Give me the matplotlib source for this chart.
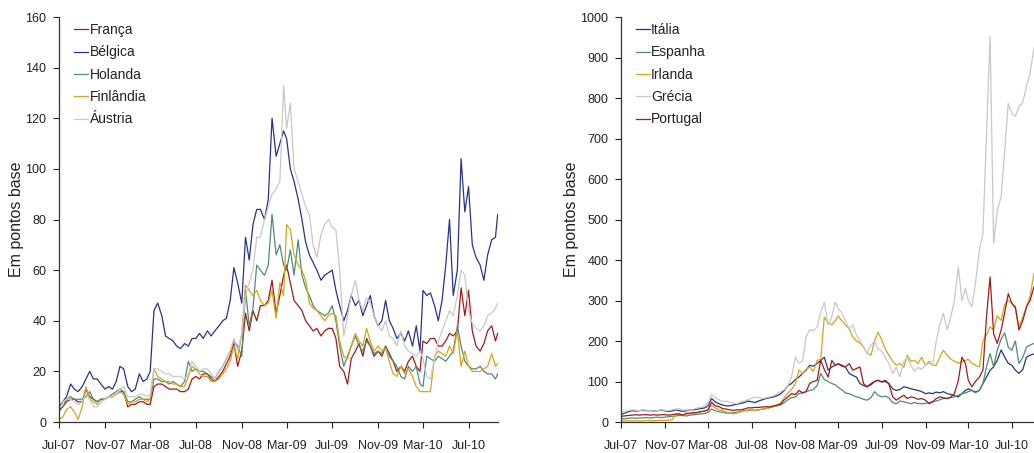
import datetime as dt
import matplotlib
matplotlib.use('Agg')
import matplotlib.pyplot as plt
import matplotlib.dates as mdates

plt.rcParams['font.family'] = ['Liberation Sans', 'DejaVu Sans']

# observation dates: 1st, 11th and 21st of each month, last one 17 Sep 2010
dates = []
for y, m in [(2007 + (6 + k) // 12, (6 + k) % 12 + 1) for k in range(39)]:
    days = [1, 11, 17] if (y, m) == (2010, 9) else [1, 11, 21]
    dates += [dt.date(y, m, d) for d in days]

tick_dates = [dt.date(2007 + (6 + 4 * k) // 12, (6 + 4 * k) % 12 + 1, 1) for k in range(10)]
tick_labels = ['Jul-07', 'Nov-07', 'Mar-08', 'Jul-08', 'Nov-08',
               'Mar-09', 'Jul-09', 'Nov-09', 'Mar-10', 'Jul-10']

# ---- spreads vs Germany, core countries (basis points) ----
franca = [5, 6, 8, 9, 9, 8, 8, 13, 10, 9, 8, 9, 9, 10, 10, 11, 12, 12,
          6, 7, 7, 8, 8, 7, 7, 14, 15, 15, 14, 13, 13, 13, 12, 12, 13, 17,
          18, 17, 19, 19, 17, 16, 18, 20, 23, 26, 31, 22, 28, 43, 36, 44, 40, 46,
          46, 48, 56, 43, 50, 58, 62, 55, 48, 46, 44, 40, 38, 36, 37, 34, 36, 37,
          37, 33, 22, 20, 15, 25, 28, 31, 26, 33, 30, 26, 28, 26, 30, 27, 24, 20,
          22, 20, 24, 26, 22, 20, 32, 31, 33, 33, 30, 30, 32, 35, 34, 36, 53, 42,
          52, 36, 30, 28, 31, 36, 38, 32, 35]
belgica = [6, 8, 10, 15, 13, 12, 14, 17, 20, 17, 17, 15, 13, 14, 13, 16, 22, 21,
           14, 12, 13, 19, 16, 17, 20, 44, 47, 42, 34, 33, 32, 30, 29, 31, 30, 33,
           33, 35, 33, 36, 34, 36, 38, 40, 41, 48, 61, 55, 47, 73, 64, 78, 84, 84,
           80, 88, 120, 105, 110, 115, 112, 100, 95, 88, 80, 71, 66, 63, 60, 56, 58, 59,
           60, 52, 46, 40, 44, 50, 46, 48, 42, 46, 50, 42, 38, 40, 48, 40, 37, 33,
           35, 32, 36, 30, 38, 28, 52, 50, 51, 46, 40, 48, 62, 80, 50, 60, 104, 83,
           93, 70, 65, 62, 56, 66, 72, 73, 82]
holanda = [4, 6, 9, 10, 9, 9, 9, 10, 12, 9, 8, 9, 9, 10, 11, 12, 13, 12,
           8, 8, 9, 10, 9, 9, 9, 17, 17, 16, 16, 15, 16, 15, 14, 16, 24, 20,
           21, 20, 20, 19, 18, 17, 20, 22, 25, 28, 32, 30, 26, 52, 38, 45, 62, 60,
           58, 62, 82, 66, 70, 62, 60, 68, 58, 72, 58, 53, 50, 46, 44, 43, 42, 43,
           46, 40, 30, 22, 26, 30, 34, 30, 28, 32, 30, 27, 28, 27, 30, 26, 24, 22,
           18, 17, 22, 20, 22, 15, 14, 26, 25, 24, 26, 25, 24, 26, 28, 38, 30, 24,
           22, 21, 21, 22, 20, 19, 19, 17, 19]
finlandia = [1, 2, 5, 6, 4, 1, 6, 14, 9, 8, 7, 8, 9, 10, 10, 11, 12, 11,
             7, 8, 8, 9, 9, 8, 9, 21, 18, 17, 16, 16, 15, 15, 14, 14, 18, 22,
             21, 19, 18, 18, 16, 16, 17, 19, 21, 24, 30, 25, 35, 54, 52, 50, 52, 48,
             46, 47, 52, 41, 55, 50, 78, 76, 66, 62, 60, 56, 47, 45, 44, 42, 40, 42,
             43, 42, 32, 26, 25, 30, 35, 32, 30, 37, 32, 28, 30, 28, 29, 24, 19, 18,
             22, 19, 21, 18, 14, 12, 12, 12, 12, 26, 28, 27, 26, 30, 27, 36, 22, 28,
             22, 20, 20, 20, 21, 22, 27, 22, 23]
austria = [7, 8, 9, 9, 8, 7, 8, 11, 9, 6, 6, 8, 9, 10, 10, 11, 13, 14,
           10, 10, 10, 11, 11, 10, 11, 21, 21, 20, 19, 19, 18, 18, 18, 17, 19, 24,
           22, 20, 21, 21, 19, 17, 20, 22, 25, 28, 33, 28, 35, 50, 55, 60, 73, 73,
           80, 85, 90, 92, 95, 133, 116, 126, 100, 95, 90, 85, 82, 70, 65, 74, 78, 80,
           77, 76, 60, 34, 42, 50, 56, 48, 44, 49, 47, 42, 38, 36, 40, 34, 33, 30,
           36, 30, 28, 27, 26, 28, 25, 18, 17, 25, 32, 36, 40, 44, 42, 50, 60, 58,
           44, 39, 37, 36, 38, 42, 43, 45, 47]

# ---- spreads vs Germany, peripheral countries (basis points) ----
italia = [18, 22, 25, 28, 27, 28, 29, 28, 28, 27, 28, 29, 28, 26, 27, 30, 28, 26,
          28, 30, 30, 32, 33, 35, 40, 58, 50, 45, 42, 40, 40, 42, 44, 46, 48, 52,
          50, 48, 52, 55, 58, 60, 62, 65, 70, 78, 90, 95, 105, 111, 120, 128, 140, 138,
          144, 152, 160, 128, 136, 140, 144, 140, 136, 120, 115, 111, 95, 90, 87, 92, 100, 103,
          99, 100, 95, 82, 78, 80, 87, 85, 82, 80, 78, 75, 70, 72, 70, 74, 72, 75,
          70, 68, 65, 62, 70, 78, 82, 78, 74, 78, 95, 111, 128, 136, 152, 178, 160, 145,
          140, 128, 120, 130, 160, 165, 168, 165, 170]
espanha = [8, 8, 9, 10, 9, 10, 10, 11, 10, 11, 12, 11, 12, 13, 14, 15, 16, 16,
           15, 17, 18, 19, 20, 21, 24, 32, 28, 25, 24, 22, 22, 23, 24, 26, 28, 28,
           30, 29, 30, 32, 34, 36, 38, 40, 42, 48, 55, 60, 62, 70, 72, 75, 78, 80,
           90, 120, 105, 100, 95, 92, 85, 80, 72, 70, 66, 62, 60, 56, 54, 60, 75, 66,
           62, 64, 60, 48, 45, 52, 50, 48, 45, 48, 46, 45, 46, 48, 50, 52, 55, 58,
           58, 60, 62, 66, 70, 72, 75, 78, 72, 78, 95, 136, 169, 136, 177, 205, 220, 185,
           177, 200, 144, 160, 185, 190, 194, 192, 195]
irlanda = [2, 3, 3, 3, 3, 3, 3, 4, 3, 3, 4, 4, 4, 5, 5, 18, 20, 17,
           19, 20, 22, 22, 25, 27, 30, 42, 35, 30, 28, 25, 22, 20, 22, 25, 28, 30,
           30, 28, 30, 32, 33, 35, 38, 42, 47, 60, 72, 80, 95, 128, 120, 130, 136, 125,
           152, 155, 259, 245, 240, 250, 262, 250, 240, 230, 210, 200, 195, 185, 170, 165, 200, 222,
           203, 180, 165, 150, 140, 145, 135, 165, 150, 152, 145, 160, 140, 150, 140, 140, 160, 177,
           165, 155, 150, 145, 150, 152, 155, 145, 140, 136, 200, 215, 235, 227, 262, 251, 290, 300,
           293, 280, 235, 260, 284, 310, 367, 370, 370]
grecia = [22, 25, 28, 30, 29, 28, 30, 29, 28, 27, 28, 30, 29, 28, 30, 32, 33, 30,
          30, 29, 32, 35, 36, 40, 48, 68, 60, 55, 50, 52, 48, 47, 45, 50, 52, 55,
          58, 62, 60, 58, 60, 62, 65, 70, 75, 80, 90, 110, 160, 145, 150, 210, 228, 225,
          235, 270, 296, 240, 260, 296, 280, 270, 250, 230, 240, 215, 200, 185, 170, 190, 200, 180,
          175, 160, 145, 120, 135, 112, 150, 160, 140, 125, 135, 130, 140, 145, 140, 200, 240, 268,
          228, 260, 300, 383, 300, 330, 300, 285, 342, 425, 466, 713, 952, 441, 520, 556, 672, 787,
          762, 755, 779, 790, 829, 861, 923, 930, 940]
portugal = [14, 15, 16, 17, 18, 17, 18, 18, 17, 18, 17, 18, 18, 17, 18, 20, 20, 17,
            22, 22, 23, 24, 26, 27, 30, 49, 40, 38, 33, 32, 30, 29, 30, 30, 32, 35,
            35, 36, 36, 37, 38, 37, 40, 42, 45, 55, 62, 70, 68, 78, 72, 75, 95, 100,
            103, 152, 130, 111, 152, 140, 144, 138, 136, 144, 128, 132, 136, 95, 87, 95, 100, 103,
            99, 103, 95, 62, 54, 60, 66, 58, 62, 60, 56, 58, 54, 45, 50, 58, 62, 60,
            58, 62, 70, 103, 160, 144, 103, 87, 100, 111, 128, 260, 358, 218, 194, 227, 270, 317,
            293, 284, 227, 251, 284, 300, 334, 330, 335]

left_series = [('França', franca, '#9E1B1B'),
               ('Bélgica', belgica, '#26348B'),
               ('Holanda', holanda, '#4F8C74'),
               ('Finlândia', finlandia, '#D9A21B'),
               ('Áustria', austria, '#C8C8C8')]
right_series = [('Itália', italia, '#26348B'),
                ('Espanha', espanha, '#4F8C74'),
                ('Irlanda', irlanda, '#D9A21B'),
                ('Grécia', grecia, '#C8C8C8'),
                ('Portugal', portugal, '#9E1B1B')]

fig = plt.figure(figsize=(10.34, 4.53), dpi=100)
ax1 = fig.add_axes([0.0571, 0.0684, 0.4246, 0.894])
ax2 = fig.add_axes([0.6006, 0.0684, 0.4052, 0.894])


def style_axis(ax, series, ymax, ystep):
    for name, vals, col in series:
        ax.plot(dates, vals, color=col, lw=0.9, label=name)
    ax.set_xlim(dt.date(2007, 7, 1), dt.date(2010, 9, 18))
    ax.set_ylim(0, ymax)
    ax.set_yticks(range(0, ymax + 1, ystep))
    ax.set_xticks([mdates.date2num(d) for d in tick_dates])
    ax.set_xticklabels(tick_labels)
    ax.spines['top'].set_visible(False)
    ax.spines['right'].set_visible(False)
    for s in ['left', 'bottom']:
        ax.spines[s].set_color('#333333')
        ax.spines[s].set_linewidth(0.9)
    ax.tick_params(axis='y', direction='out', length=4, width=0.8, pad=5,
                   labelsize=9, colors='#222222')
    ax.tick_params(axis='x', direction='out', length=4, width=0.8, pad=9,
                   labelsize=9, colors='#222222')
    ax.set_ylabel('Em pontos base', fontsize=11.5, color='#222222', labelpad=1)
    leg = ax.legend(loc='upper left', bbox_to_anchor=(0.035, 0.985), frameon=False,
                    fontsize=10, handlelength=1.0, handletextpad=0.1,
                    labelspacing=0.6, borderpad=0, borderaxespad=0)
    for t in leg.get_texts():
        t.set_color('#222222')


style_axis(ax1, left_series, 160, 20)
style_axis(ax2, right_series, 1000, 100)

fig.savefig('out.png', dpi=100)
